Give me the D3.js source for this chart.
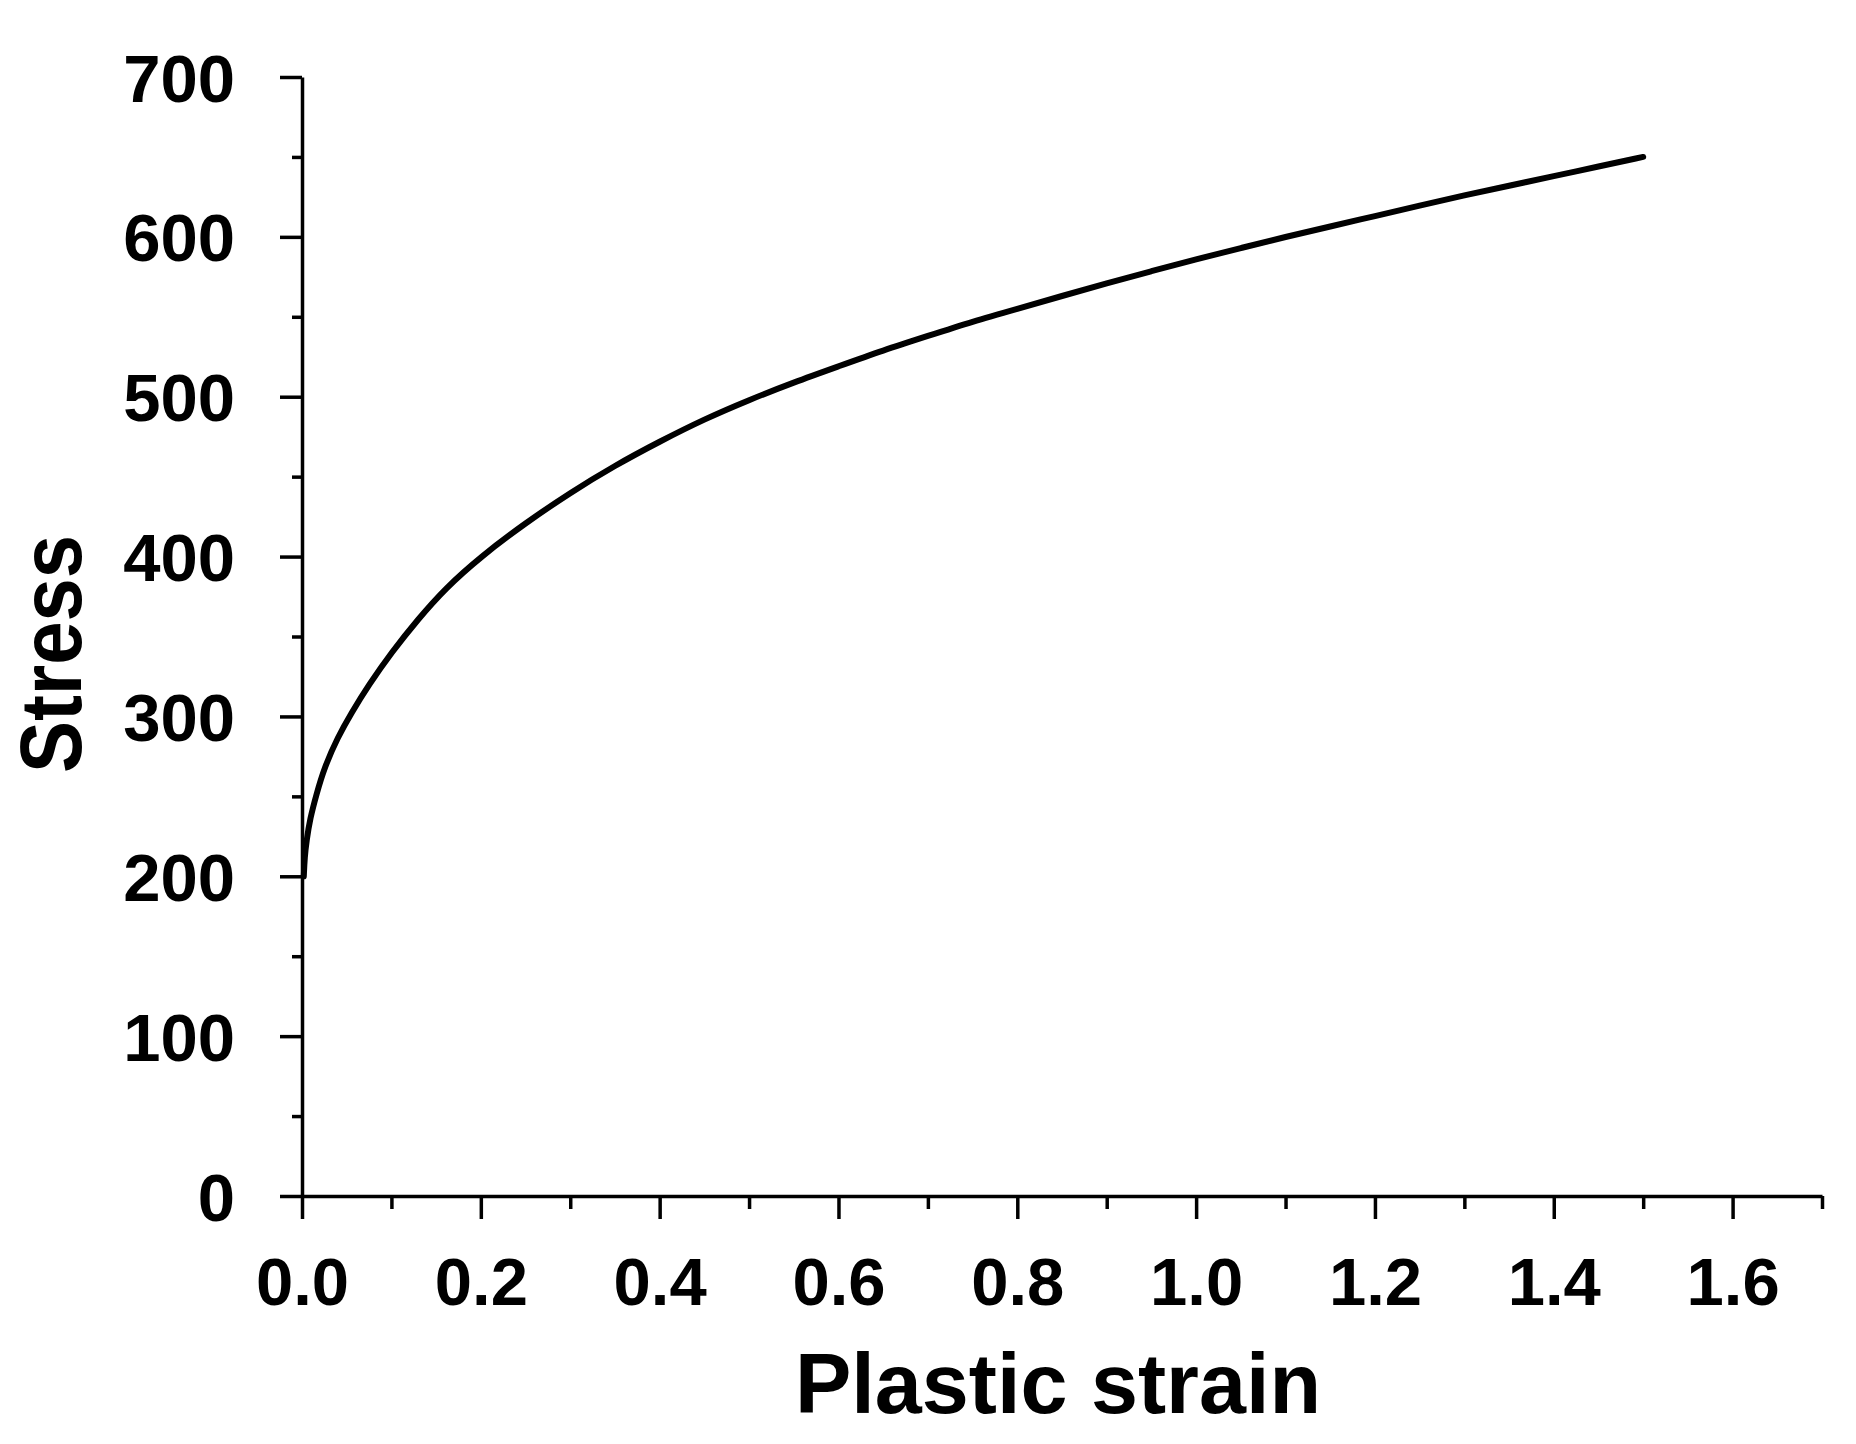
<!DOCTYPE html>
<html>
<head>
<meta charset="utf-8">
<script src="https://cdn.jsdelivr.net/npm/d3@7"></script>
<style>
  body { margin: 0; background: #fff; }
  svg { display: block; }
  .tick text { font-family: "Liberation Sans", Arial, sans-serif; font-weight: bold; font-size: 67px; fill: #000; }
  .axis-title { font-family: "Liberation Sans", Arial, sans-serif; font-weight: bold; fill: #000; }
</style>
</head>
<body>
<svg id="canvas" width="1856" height="1444"></svg>
<script>
// values
var strain = [0.002, 0.003, 0.005, 0.009, 0.016, 0.025, 0.04, 0.055, 0.075, 0.1, 0.13, 0.16, 0.2, 0.25,
              0.3, 0.35, 0.4, 0.45, 0.5, 0.55, 0.6, 0.65, 0.7, 0.75, 0.8, 0.85, 0.9, 0.95, 1.0,
              1.05, 1.1, 1.15, 1.2, 1.25, 1.3, 1.35, 1.4, 1.45, 1.5];
var stress = [200, 212, 222, 236, 251, 268, 287, 302, 320, 340, 361, 380, 400, 421,
              440, 457, 472, 486, 498, 509, 519, 529, 538, 547, 555, 563, 571, 578.5, 586,
              593, 600, 606.5, 613, 619.5, 626, 632, 638, 644, 650];

var xTicks = [0, 0.2, 0.4, 0.6, 0.8, 1.0, 1.2, 1.4, 1.6];
var xMinorTicks = [0.1, 0.3, 0.5, 0.7, 0.9, 1.1, 1.3, 1.5, 1.7];
var yTicks = [0, 100, 200, 300, 400, 500, 600, 700];
var yMinorTicks = [50, 150, 250, 350, 450, 550, 650];

var xTitle = "Plastic strain";
var yTitle = "Stress";

var svg = d3.select("#canvas");

var x = d3.scaleLinear().domain([0, 1.7]).range([302, 1822]);
var y = d3.scaleLinear().domain([0, 700]).range([1196, 77]);

// minor ticks first, no labels
svg.append("g")
    .attr("transform", "translate(0," + y(0) + ")")
    .call(d3.axisBottom(x).tickValues(xMinorTicks).tickSize(13).tickFormat(""))
    .call(function(g){ g.select(".domain").remove(); });

svg.append("g")
    .attr("transform", "translate(" + x(0) + ",0)")
    .call(d3.axisLeft(y).tickValues(yMinorTicks).tickSize(10).tickFormat(""))
    .call(function(g){ g.select(".domain").remove(); });

var xAxis = svg.append("g")
    .attr("transform", "translate(0," + y(0) + ")")
    .call(d3.axisBottom(x).tickValues(xTicks).tickSize(23).tickSizeOuter(0)
        .tickPadding(38).tickFormat(d3.format(".1f")));

var yAxis = svg.append("g")
    .attr("transform", "translate(" + x(0) + ",0)")
    .call(d3.axisLeft(y).tickValues(yTicks).tickSize(22).tickSizeOuter(0)
        .tickPadding(45).tickFormat(d3.format("d")));

yAxis.selectAll(".tick text").attr("dy", "0.36em");

svg.selectAll(".domain, .tick line")
    .attr("stroke", "#000")
    .attr("stroke-width", 3.5);

// the curve
var line = d3.line()
    .x(function(d){ return x(d[0]); })
    .y(function(d){ return y(d[1]); })
    .curve(d3.curveBasis);

svg.append("path")
    .datum(d3.zip(strain, stress))
    .attr("d", line)
    .attr("fill", "none")
    .attr("stroke", "#000")
    .attr("stroke-width", 6)
    .attr("stroke-linecap", "round");

// axis titles
svg.append("text")
    .attr("class", "axis-title")
    .attr("x", 1058)
    .attr("y", 1413)
    .attr("text-anchor", "middle")
    .attr("font-size", 86)
    .attr("textLength", 526)
    .attr("lengthAdjust", "spacingAndGlyphs")
    .text(xTitle);

svg.append("text")
    .attr("class", "axis-title")
    .attr("transform", "translate(81,654) rotate(-90)")
    .attr("text-anchor", "middle")
    .attr("font-size", 88)
    .attr("textLength", 238)
    .attr("lengthAdjust", "spacingAndGlyphs")
    .text(yTitle);
</script>
</body>
</html>
